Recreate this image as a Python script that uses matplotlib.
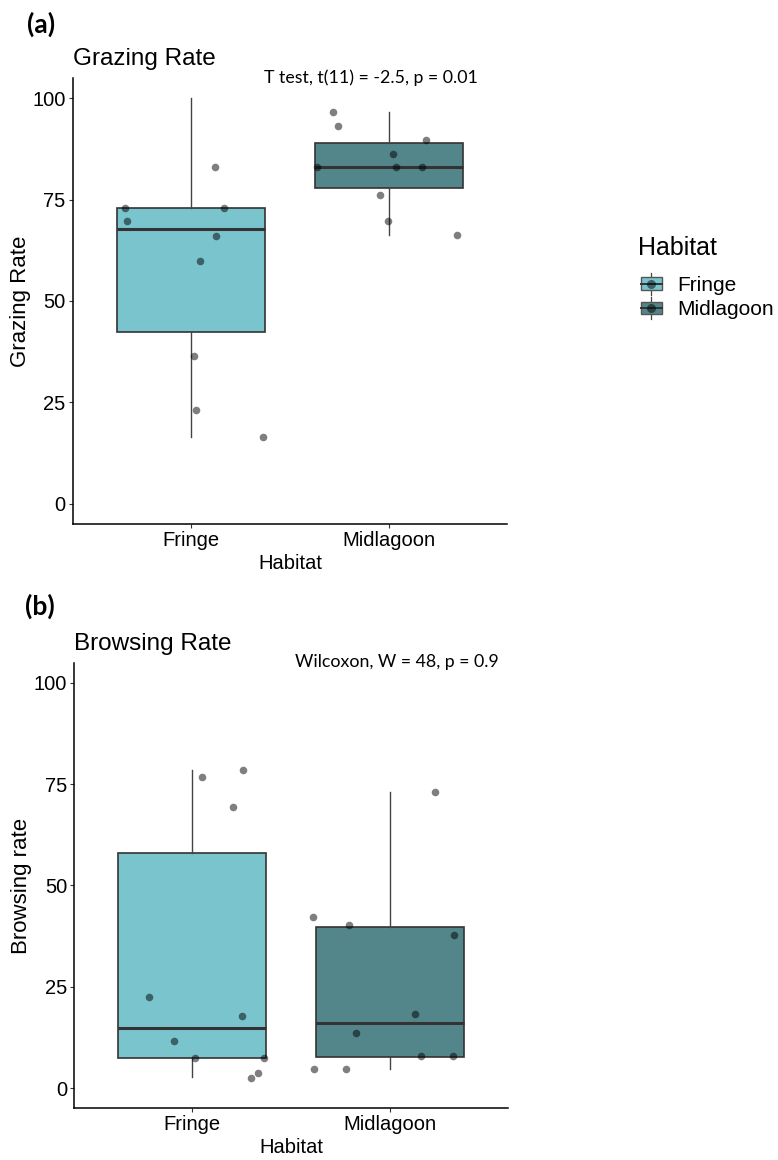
#!/usr/bin/env python3
"""
Two-panel boxplot: grazing and browsing rate by habitat (Fringe vs Midlagoon)
"""
import matplotlib
matplotlib.use("Agg")
import matplotlib.pyplot as plt
from matplotlib.patches import Patch, Rectangle
from matplotlib.lines import Line2D
from matplotlib.legend_handler import HandlerBase

# ── data ──
habitats = ["Fringe", "Midlagoon"]
fill_colors = ["#7AC5CD", "#53868B"]

# box summaries (lower whisker, Q1, median, Q3, upper whisker)
grazing_whislo = [16.5, 66.3]
grazing_q1 = [42.3, 77.8]
grazing_med = [67.8, 83.1]
grazing_q3 = [73.0, 89.0]
grazing_whishi = [100.0, 96.5]

browsing_whislo = [2.6, 4.8]
browsing_q1 = [7.5, 7.7]
browsing_med = [14.8, 16.1]
browsing_q3 = [57.9, 39.7]
browsing_whishi = [78.5, 73.2]

# jittered points: value and horizontal jitter offset from group centre
grazing_fringe = [73.0, 69.6, 83.1, 73.0, 66.1, 59.8, 36.4, 23.0, 16.5]
grazing_fringe_jit = [-0.334, -0.325, 0.123, 0.164, 0.125, 0.047, 0.014, 0.024, 0.366]
grazing_mid = [96.5, 93.1, 89.8, 86.3, 83.1, 83.0, 83.1, 76.2, 69.7, 66.3]
grazing_mid_jit = [-0.28, -0.258, 0.189, 0.022, -0.364, 0.038, 0.168, -0.042, -0.002, 0.344]

browsing_fringe = [76.7, 78.5, 69.5, 22.5, 17.7, 11.7, 7.4, 7.5, 2.5, 3.7]
browsing_fringe_jit = [0.048, 0.258, 0.207, -0.219, 0.251, -0.093, 0.014, 0.364, 0.298, 0.331]
browsing_mid = [73.2, 42.3, 40.3, 37.7, 18.3, 13.7, 4.8, 4.7, 7.8, 7.9]
browsing_mid_jit = [0.231, -0.391, -0.206, 0.325, 0.128, -0.17, -0.385, -0.223, 0.158, 0.322]

EDGE = "#333333"


class BoxKey(HandlerBase):
    """little boxplot + point legend key, like ggplot"""
    def create_artists(self, legend, orig_handle, xdescent, ydescent,
                       width, height, fontsize, trans):
        x0, y0 = -xdescent, -ydescent
        fc = orig_handle.get_facecolor()
        whisk = Line2D([x0 + width / 2] * 2, [y0 - 0.2 * height, y0 + 1.2 * height],
                       color="#444444", lw=0.9)
        box = Rectangle((x0, y0 + 0.1 * height), width, 0.8 * height,
                        facecolor=fc, edgecolor="#555555", lw=1.0)
        med = Line2D([x0, x0 + width], [y0 + height / 2] * 2, color=EDGE, lw=1.4)
        dot = Line2D([x0 + width / 2], [y0 + height / 2], marker="o", ms=6.5,
                     color="black", alpha=0.5, ls="none", markeredgewidth=0)
        arts = [whisk, box, med, dot]
        for a in arts:
            a.set_transform(trans)
        return arts


def draw_panel(ax, whislo, q1, med, q3, whishi, groups, jits, ylabel):
    stats = []
    for i in range(len(habitats)):
        stats.append(dict(whislo=whislo[i], q1=q1[i], med=med[i],
                          q3=q3[i], whishi=whishi[i], fliers=[]))
    bp = ax.bxp(stats, positions=[1, 2], widths=0.75, patch_artist=True,
                showfliers=False, showcaps=False,
                boxprops=dict(edgecolor=EDGE, linewidth=1.2),
                whiskerprops=dict(color="#444444", linewidth=1.0),
                medianprops=dict(color=EDGE, linewidth=2.2))
    for patch, c in zip(bp["boxes"], fill_colors):
        patch.set_facecolor(c)

    for i, (vals, jit) in enumerate(zip(groups, jits)):
        xs = [i + 1 + j for j in jit]
        ax.scatter(xs, vals, s=30, color="black", alpha=0.5,
                   linewidths=0, zorder=5)

    ax.set_xlim(0.4, 2.6)
    ax.set_ylim(-5, 105)
    ax.set_yticks([0, 25, 50, 75, 100])
    ax.set_xticks([1, 2])
    ax.set_xticklabels(habitats)
    for s in ["top", "right"]:
        ax.spines[s].set_visible(False)
    for s in ["left", "bottom"]:
        ax.spines[s].set_linewidth(1.1)
    ax.tick_params(axis="both", labelsize=14.5, length=3, width=0.8,
                   color=EDGE, pad=2)
    ax.set_xlabel("Habitat", fontsize=14.5, va="center")
    ax.set_ylabel(ylabel, fontsize=16, va="center")
    ax.xaxis.set_label_coords(0.5, -0.089)
    ax.yaxis.set_label_coords(-0.12, 0.5)


def main():
    plt.rcParams["font.family"] = ["Liberation Sans", "DejaVu Sans"]
    fig = plt.figure(figsize=(7.78, 11.6), dpi=100)

    # ── panel a ──
    ax_a = fig.add_axes([0.0934, 0.5483, 0.5586, 0.3845])
    draw_panel(ax_a, grazing_whislo, grazing_q1, grazing_med, grazing_q3,
               grazing_whishi, [grazing_fringe, grazing_mid],
               [grazing_fringe_jit, grazing_mid_jit], "Grazing Rate")
    ax_a.text(0, 1.029, "Grazing Rate", transform=ax_a.transAxes,
              fontsize=17.5, va="baseline", ha="left")
    ax_a.text(1.91, 105, "T test, t(11) = -2.5, p = 0.01", fontsize=12.8,
              family="Lato", ha="center", va="center", clip_on=False)

    # ── panel b ──
    ax_b = fig.add_axes([0.0951, 0.0446, 0.5582, 0.3841])
    draw_panel(ax_b, browsing_whislo, browsing_q1, browsing_med, browsing_q3,
               browsing_whishi, [browsing_fringe, browsing_mid],
               [browsing_fringe_jit, browsing_mid_jit], "Browsing rate")
    ax_b.text(0, 1.0285, "Browsing Rate", transform=ax_b.transAxes,
              fontsize=17.5, va="baseline", ha="left")
    ax_b.text(2.034, 105.2, "Wilcoxon, W = 48, p = 0.9", fontsize=12.8,
              family="Lato", ha="center", va="center", clip_on=False)

    # panel letters
    fig.text(0.035, 0.979, "(a)", fontsize=19, fontweight="bold",
             family="Lato", va="center", ha="left")
    fig.text(0.032, 0.477, "(b)", fontsize=19, fontweight="bold",
             family="Lato", va="center", ha="left")

    # ── legend ──
    fig.text(0.820, 1 - 248 / 1160, "Habitat", fontsize=18,
             ha="left", va="center")
    handles = [Patch(facecolor=c) for c in fill_colors]
    fig.legend(handles, habitats, loc="center left",
               bbox_to_anchor=(0.8235, 1 - 297.6 / 1160), frameon=False,
               fontsize=15, handler_map={Patch: BoxKey()}, handlelength=1.02,
               handleheight=0.77, handletextpad=0.74, labelspacing=0.26,
               borderpad=0, borderaxespad=0)

    fig.savefig("out.png", dpi=100)
    plt.close(fig)


if __name__ == "__main__":
    main()
